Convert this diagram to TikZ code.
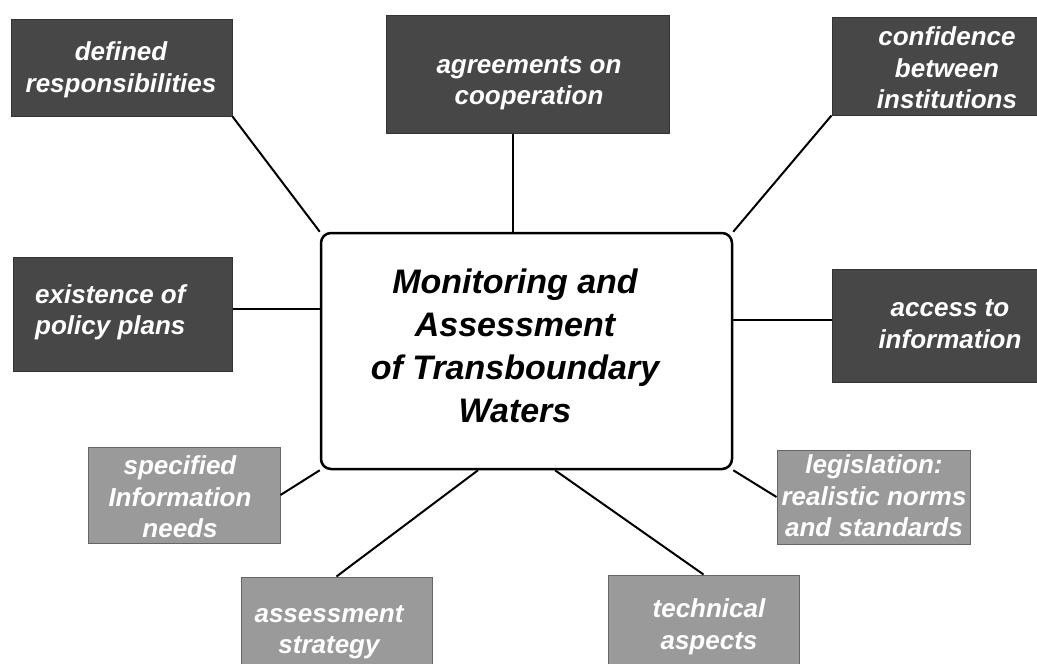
\documentclass[tikz,border=0pt]{standalone}
\usepackage{fontspec}
\setmainfont{Liberation Sans}
\begin{document}
\begin{tikzpicture}[x=1pt,y=-1pt,
  darkbox/.style={rectangle, inner sep=0pt, fill=boxdark, draw=boxdarkline, line width=1pt},
  lightbox/.style={rectangle, inner sep=0pt, fill=boxlight, draw=boxlightline, line width=1pt},
  boxtext/.style={inner sep=0pt, text=white, align=center,
    font=\fontsize{26}{31.5}\selectfont\bfseries\itshape},
  centerbox/.style={rectangle, inner sep=0pt, fill=white, draw=black, line width=2.5pt, rounded corners=10pt},
  centertext/.style={inner sep=0pt, text=black, align=center,
    font=\fontsize{34}{43}\selectfont\bfseries\itshape},
  link/.style={draw=black, line width=2pt}]
\definecolor{boxdark}{HTML}{474747}
\definecolor{boxdarkline}{HTML}{333333}
\definecolor{boxlight}{HTML}{9A9A9A}
\definecolor{boxlightline}{HTML}{666666}
\useasboundingbox (0,0) rectangle (1037,664);

% central topic
\node[centerbox, minimum width=411pt, minimum height=236pt] (cen) at (526.5,351) {};
\node[centertext] (centxt) at (515,346) {Monitoring and\\Assessment\\of Transboundary\\Waters};

% upper (dark) factors
\node[darkbox, minimum width=221pt, minimum height=97pt] (def) at (121.5,67.5) {};
\node[boxtext] (deftxt) at (121,70) {defined\\responsibilities};

\node[darkbox, minimum width=283pt, minimum height=118pt] (agr) at (527.5,74) {};
\node[boxtext] (agrtxt) at (529,83) {agreements on\\cooperation};

\node[darkbox, minimum width=230pt, minimum height=98pt] (conf) at (947,66) {};
\node[boxtext] (conftxt) at (947,68) {confidence\\between\\institutions};

\node[darkbox, minimum width=219pt, minimum height=114pt] (pol) at (122.5,314) {};
\node[boxtext, align=left, anchor=west] (poltxt) at (35,312.5) {existence of\\policy plans};

\node[darkbox, minimum width=236pt, minimum height=113pt] (acc) at (950,325.5) {};
\node[boxtext] (acctxt) at (950,324) {access to\\information};

% lower (light) factors
\node[lightbox, minimum width=192pt, minimum height=96pt] (spec) at (184,495) {};
\node[boxtext] (spectxt) at (180,497) {specified\\Information\\needs};

\node[lightbox, minimum width=193pt, minimum height=94pt] (leg) at (873.5,497) {};
\node[boxtext] (legtxt) at (874,496) {legislation:\\realistic norms\\and standards};

\node[lightbox, minimum width=191pt, minimum height=113pt] (ass) at (336.5,633.5) {};
\node[boxtext] (asstxt) at (329,632) {assessment\\strategy};

\node[lightbox, minimum width=191pt, minimum height=105pt] (tech) at (703.5,627.5) {};
\node[boxtext] (techtxt) at (709,627) {technical\\aspects};

% connectors
\draw[link] (def.south east) -- (cen.north west);
\draw[link] ([xshift=-14.5pt]agr.south) -- ([xshift=-14.5pt]agr.south |- cen.north);
\draw[link] (conf.south west) -- (cen.north east);
\draw[link] ([yshift=5pt]pol.east) -- ([yshift=5pt]pol.east -| cen.west);
\draw[link] ([yshift=5.5pt]acc.west) -- ([yshift=5.5pt]acc.west -| cen.east);
\draw[link] (spec.east) -- (cen.south west);
\draw[link] (leg.west) -- (cen.south east);
\draw[link] (ass.north) -- ([xshift=-48.5pt]cen.south);
\draw[link] (tech.north) -- ([xshift=28.5pt]cen.south);
\end{tikzpicture}
\end{document}
